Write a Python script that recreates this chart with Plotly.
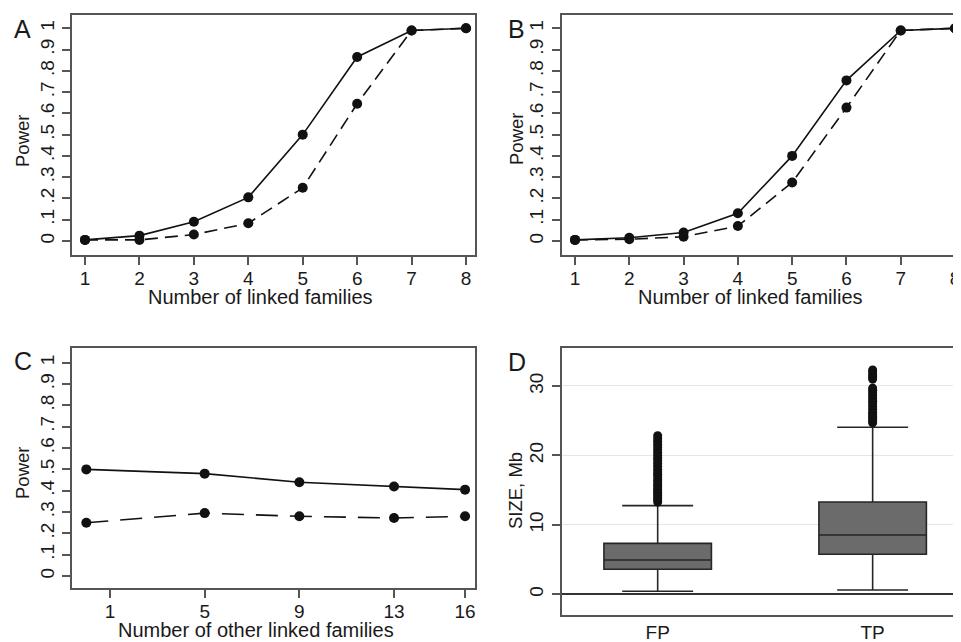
import plotly.graph_objects as go

# page is 961x642; the html body has an 8px margin, so the figure is 953x634
OFF = 8
W, H = 961 - OFF, 642 - OFF

# ---- data ----
families = [1, 2, 3, 4, 5, 6, 7, 8]
A_solid = [0.005, 0.025, 0.09, 0.205, 0.50, 0.865, 0.99, 1.0]
A_dashed = [0.005, 0.005, 0.03, 0.083, 0.25, 0.645, 0.99, 1.0]
B_solid = [0.005, 0.015, 0.04, 0.13, 0.40, 0.755, 0.99, 1.0]
B_dashed = [0.005, 0.008, 0.02, 0.07, 0.275, 0.627, 0.99, 1.0]

other_families = [0, 5, 9, 13, 16]
other_ticks = [1, 5, 9, 13, 16]
C_solid = [0.50, 0.48, 0.44, 0.42, 0.405]
C_dashed = [0.25, 0.295, 0.28, 0.272, 0.28]

power_ticks = [0, 0.1, 0.2, 0.3, 0.4, 0.5, 0.6, 0.7, 0.8, 0.9, 1.0]
power_labels = ["0", ".1", ".2", ".3", ".4", ".5", ".6", ".7", ".8", ".9", "1"]

box_groups = ["FP", "TP"]
box_q1 = [3.6, 5.76]
box_median = [4.94, 8.54]
box_q3 = [7.34, 13.3]
box_low = [0.43, 0.62]
box_high = [12.77, 24.05]
FP_outliers = [13.3, 13.6, 13.9, 14.2, 14.5, 14.8, 15.1, 15.5, 15.8, 16.2, 16.5, 16.9,
               17.3, 17.6, 18.0, 18.4, 18.8, 19.2, 19.6, 20.0, 20.4, 20.8, 21.2, 21.6,
               22.0, 22.4, 22.85]
TP_outliers = [24.7, 25.0, 25.3, 25.6, 25.9, 26.2, 26.6, 27.0, 27.4, 27.8, 28.2, 28.6,
               29.0, 29.4, 29.7, 31.0, 31.3, 31.6, 32.0, 32.3]

# ---- helpers: page pixel -> paper fraction ----
def px_x(p):
    return (p - OFF) / W

def px_y(p):
    return 1 - (p - OFF) / H

FONT = "Liberation Sans, Arial, sans-serif"
TXT = "#1a1a1a"
AXC = "#555555"
LINE = "#111111"
SOLID = dict(color=LINE, width=1.6)
DASH_SHORT = dict(color=LINE, width=1.6, dash="13px,7px")
DASH_LONG = dict(color=LINE, width=1.6, dash="22px,12px")
MK = dict(color=LINE, size=10)

fig = go.Figure()

def add_pair(xs, s1, s2, xa, ya, dash):
    fig.add_trace(go.Scatter(x=xs, y=s2, mode="lines+markers", line=dash, marker=MK,
                             xaxis=xa, yaxis=ya, showlegend=False, cliponaxis=False))
    fig.add_trace(go.Scatter(x=xs, y=s1, mode="lines+markers", line=SOLID, marker=MK,
                             xaxis=xa, yaxis=ya, showlegend=False, cliponaxis=False))

add_pair(families, A_solid, A_dashed, "x", "y", DASH_SHORT)
add_pair(families, B_solid, B_dashed, "x2", "y2", DASH_SHORT)
add_pair(other_families, C_solid, C_dashed, "x3", "y3", DASH_LONG)

fig.add_trace(go.Box(x=box_groups, q1=box_q1, median=box_median, q3=box_q3,
                     lowerfence=box_low, upperfence=box_high, boxpoints=False,
                     width=0.5, whiskerwidth=0.66, fillcolor="#6b6b6b",
                     line=dict(color="#262626", width=1.6),
                     xaxis="x4", yaxis="y4", showlegend=False))
fig.add_trace(go.Scatter(x=["FP"] * len(FP_outliers), y=FP_outliers, mode="markers",
                         marker=dict(color=LINE, size=9), xaxis="x4", yaxis="y4",
                         showlegend=False))
fig.add_trace(go.Scatter(x=["TP"] * len(TP_outliers), y=TP_outliers, mode="markers",
                         marker=dict(color=LINE, size=9), xaxis="x4", yaxis="y4",
                         showlegend=False))

tickfont = dict(family=FONT, size=19, color=TXT)

def xax(dom, rng, ya, tickvals=None, mirror=True):
    d = dict(domain=dom, range=rng, anchor=ya, showline=True, linecolor=AXC, linewidth=1.5,
             mirror=mirror, ticks="outside", ticklen=8, tickcolor=AXC, tickwidth=1.5,
             showgrid=False, zeroline=False, tickfont=tickfont, ticklabelstandoff=-3)
    if tickvals is not None:
        d["tickvals"] = tickvals
    return d

def yax(dom, rng, xa, tickvals, ticktext, mirror=True, grid=False, zero=False):
    return dict(domain=dom, range=rng, anchor=xa, showline=True, linecolor=AXC, linewidth=1.5,
                mirror=mirror, ticks="outside", ticklen=8, tickcolor=AXC, tickwidth=1.5,
                tickvals=tickvals, ticktext=ticktext, tickangle=-90,
                showgrid=grid, gridcolor="#e6e6e6", gridwidth=1,
                zeroline=zero, zerolinecolor="#333333", zerolinewidth=1.6,
                tickfont=tickfont, ticklabelstandoff=1)

xA = [px_x(72), px_x(475)]
xB = [px_x(561.7), 1.0]
yTop = [px_y(255), px_y(15)]
yC = [px_y(588), px_y(348)]
yD = [px_y(615), px_y(348)]

fig.update_layout(
    width=W, height=H, autosize=False,
    margin=dict(l=0, r=0, t=0, b=0, pad=0),
    paper_bgcolor="white", plot_bgcolor="white",
    font=dict(family=FONT, color=TXT),
    xaxis=xax(xA, [0.761, 8.165], "y", tickvals=families),
    yaxis=yax(yTop, [-0.066, 1.0625], "x", power_ticks, power_labels),
    xaxis2=xax(xB, [0.755, 8.11], "y2", tickvals=families),
    yaxis2=yax(yTop, [-0.066, 1.0625], "x2", power_ticks, power_labels, mirror=False),
    xaxis3=xax(xA, [-0.605, 16.42], "y3", tickvals=other_ticks),
    yaxis3=yax(yC, [-0.056, 1.069], "x3", power_ticks, power_labels),
    xaxis4=dict(domain=xB, range=[-0.4465, 1.411], anchor="y4", type="category",
                showline=True, linecolor=AXC, linewidth=1.5, mirror=True, ticks="",
                showgrid=False, zeroline=False, tickfont=tickfont, ticklabelstandoff=-1),
    yaxis4=yax(yD, [-2.98, 35.47], "x4", [0, 10, 20, 30], ["0", "10", "20", "30"],
               mirror=False, grid=True, zero=True),
)

def ann(text, x, y, size=18, angle=0):
    fig.add_annotation(text=text, x=px_x(x), y=px_y(y), xref="paper", yref="paper",
                       showarrow=False, textangle=angle, xanchor="center", yanchor="middle",
                       font=dict(family=FONT, size=size, color=TXT))

# axis titles
ann("Number of linked families", 260, 297, 20)
ann("Number of linked families", 750, 297, 20)
ann("Number of other linked families", 256, 630, 20)
ann("Power", 22, 141, 18.5, -90)
ann("Power", 516, 139, 18.5, -90)
ann("Power", 22, 473, 18.5, -90)
ann("SIZE, Mb", 515, 491, 18.5, -90)
# panel letters
ann("A", 23, 29, 25)
ann("B", 517, 29, 25)
ann("C", 22.5, 361, 25)
ann("D", 517, 362, 25)

fig.write_html("out.html")
